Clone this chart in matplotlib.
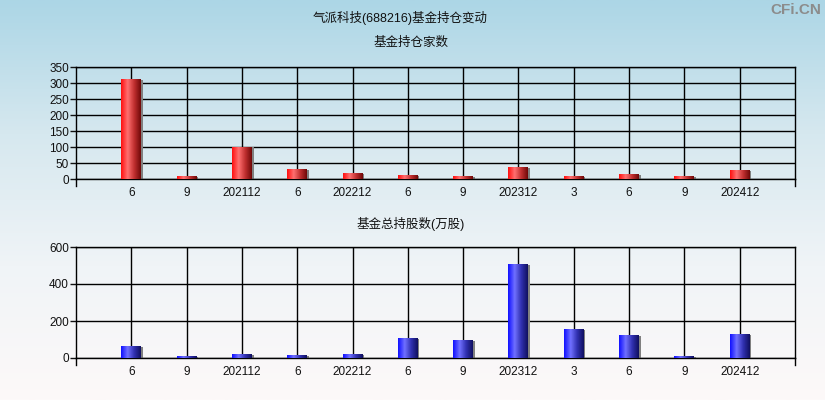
import numpy as np
import matplotlib
matplotlib.use('Agg')
import matplotlib.pyplot as plt
from matplotlib.colors import LinearSegmentedColormap

plt.rcParams['font.family'] = ['Liberation Sans', 'Noto Sans CJK SC']

# data
labels = ['6', '9', '202112', '6', '202212', '6', '9', '202312', '3', '6', '9', '202412']
fund_count = [310, 7, 100, 29, 16, 10, 7, 35, 7, 13, 7, 26]
fund_shares = [61, 7, 18, 13, 18, 104, 94, 504, 153, 121, 7, 126]

title = '气派科技(688216)基金持仓变动'
sub1 = '基金持仓家数'
sub2 = '基金总持股数(万股)'

red_cmap = LinearSegmentedColormap.from_list('r', ['#ff1010', '#ff7070', '#c03030', '#700808'])
blue_cmap = LinearSegmentedColormap.from_list('b', ['#1010ff', '#7070ff', '#3030b0', '#101060'])

fig = plt.figure(figsize=(8.25, 4), dpi=100)

# background gradient
bg = fig.add_axes([0, 0, 1, 1])
grad = np.linspace(0, 1, 256).reshape(-1, 1)
bg_cmap = LinearSegmentedColormap.from_list('bg', ['#acd6e6', '#d6e8ef', '#f0f4f7', '#fdf9f9'])
bg.imshow(grad, aspect='auto', cmap=bg_cmap, extent=[0, 1, 0, 1], origin='upper')
bg.axis('off')


def draw(ax, values, cmap, ymax, step):
    x = np.arange(1, len(values) + 1)
    bars = ax.bar(x, values, width=0.36, color='none', edgecolor='none', zorder=3)
    gx = np.linspace(0, 1, 64).reshape(1, -1)
    for b in bars:
        x0, y0 = b.get_x(), b.get_y()
        w, h = b.get_width(), b.get_height()
        # thin gray shadow on the right
        ax.bar(x0 + w + 0.015, h, width=0.03, color='#808080', zorder=2, align='center')
        ax.imshow(gx, aspect='auto', cmap=cmap, extent=[x0, x0 + w, y0, y0 + h],
                  zorder=3, interpolation='bilinear')
    ax.set_xlim(0, 13)
    ax.set_ylim(0, ymax)
    ax.set_yticks(np.arange(0, ymax + 1, step))
    ax.set_xticks(x)
    ax.set_xticklabels(labels)
    ax.tick_params(axis='x', length=0, pad=6, labelsize=8.5, colors='#111111')
    ax.tick_params(axis='y', length=4, width=1, pad=1, labelsize=8.5, colors='#111111')
    for xv in x:
        ax.axvline(xv, color='black', linewidth=1, zorder=1)
    ax.grid(True, axis='y', color='black', linewidth=1, zorder=1)
    ax.set_axisbelow(True)
    ax.set_facecolor('none')
    for s in ax.spines.values():
        s.set_color('black')
        s.set_linewidth(1)
    # small ticks below the bottom edge at both ends
    for xe in (0, 13):
        ax.plot([xe, xe], [0, -ymax * 0.06], color='black', linewidth=1, clip_on=False, zorder=4)


ax1 = fig.add_axes([0.0921, 0.5525, 0.8715, 0.28])
draw(ax1, fund_count, red_cmap, 350, 50)

ax2 = fig.add_axes([0.0921, 0.105, 0.8715, 0.2775])
draw(ax2, fund_shares, blue_cmap, 600, 200)

fig.text(0.485, 0.955, title, ha='center', va='center', fontsize=9, color='#111111')
fig.text(0.498, 0.893, sub1, ha='center', va='center', fontsize=9, color='#111111')
fig.text(0.498, 0.44, sub2, ha='center', va='center', fontsize=9, color='#111111')
fig.text(0.995, 0.975, 'CFi.CN', ha='right', va='center', fontsize=11, fontweight='bold',
         color='#8c8c8c')

fig.savefig('out.png', dpi=100)
